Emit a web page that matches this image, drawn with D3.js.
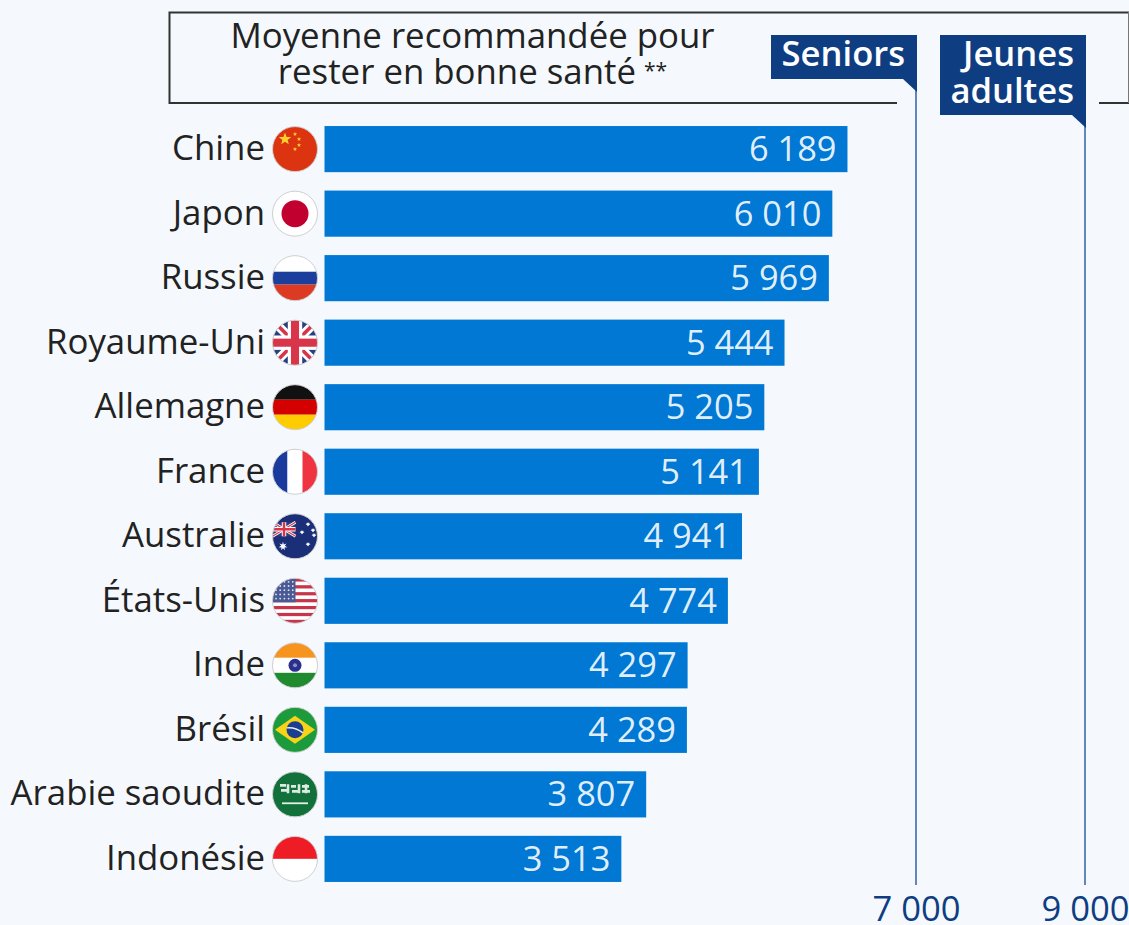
<!DOCTYPE html>
<html lang="fr">
<head>
<meta charset="utf-8">
<script src="https://cdn.jsdelivr.net/npm/d3@7"></script>
<style>
  html, body { margin: 0; padding: 0; background: #f5f9fd; overflow: hidden; }
  svg { display: block; font-family: "Open Sans", sans-serif; }
</style>
</head>
<body>
<div id="chart"></div>
<script>
const countries = ['Chine', 'Japon', 'Russie', 'Royaume-Uni', 'Allemagne', 'France', 'Australie', 'États-Unis', 'Inde', 'Brésil', 'Arabie saoudite', 'Indonésie'];
const steps = [6189, 6010, 5969, 5444, 5205, 5141, 4941, 4774, 4297, 4289, 3807, 3513];
const flagCodes = ['cn', 'jp', 'ru', 'gb', 'de', 'fr', 'au', 'us', 'in', 'br', 'sa', 'id'];
const refValues = [7000, 9000];
const refLabels = ['Seniors', 'Jeunes adultes'];
const headerLines = ['Moyenne recommandée pour', 'rester en bonne santé'];

const width = 1129, height = 925;
const navy = '#0f3d82', barBlue = '#0078d4', lineBlue = '#3f6aa8', textDark = '#222';
const fontSize = '34.6px';

const fmt = d => d3.format(',')(d).replace(',', ' ');

const svg = d3.select('#chart').append('svg')
  .attr('width', width)
  .attr('height', height);

const x = d3.scaleLinear().domain([0, 9000]).range([324.5, 1085]);
const y = d3.scaleBand().domain(countries).range([117, 891]).paddingInner(0.285).paddingOuter(0.14);

// header box, open where the labels cross it
svg.append('path')
  .attr('d', `M897,103 H169.5 V12.5 H${width}`)
  .attr('fill', 'none').attr('stroke', '#333').attr('stroke-width', 2);
svg.append('line')
  .attr('x1', 1099).attr('x2', width).attr('y1', 103).attr('y2', 103)
  .attr('stroke', '#333').attr('stroke-width', 2);
svg.append('line')
  .attr('x1', 1128.5).attr('x2', 1128.5).attr('y1', 12).attr('y2', 103)
  .attr('stroke', '#777').attr('stroke-width', 1);

const header = svg.selectAll('.header-line')
  .data(headerLines)
  .enter().append('text')
  .attr('class', 'header-line')
  .attr('x', 472.5)
  .attr('y', (d, i) => 48 + i * 36)
  .attr('text-anchor', 'middle')
  .style('font-size', '34.8px')
  .style('fill', textDark)
  .text(d => d);
// the ** note mark sits smaller and raised
header.filter((d, i) => i === 1).append('tspan')
  .attr('dx', 8).attr('dy', -6)
  .style('font-size', '21px')
  .text('**');

// reference lines
const axis = d3.axisBottom(x).tickValues(refValues).tickFormat(fmt).tickSize(0).tickPadding(0);
const axisG = svg.append('g').attr('transform', 'translate(0,885)').call(axis);
axisG.select('.domain').remove();
axisG.selectAll('text')
  .attr('y', 36)
  .attr('dy', 0)
  .style('font-family', '"Open Sans", sans-serif')
  .style('font-size', fontSize)
  .style('fill', navy);

svg.selectAll('.ref-line')
  .data(refValues)
  .enter().append('line')
  .attr('class', 'ref-line')
  .attr('x1', d => x(d)).attr('x2', d => x(d))
  .attr('y1', 78).attr('y2', 885)
  .attr('stroke', lineBlue).attr('stroke-width', 1.6);

// labels on top of the lines
const tagHeight = [44, 80];
const tagWidth = [146, 146];
const tagLines = [['Seniors'], ['Jeunes', 'adultes']];
refValues.forEach((v, i) => {
  const right = x(v) + 1;
  const g = svg.append('g').attr('class', 'ref-tag').datum(refLabels[i]);
  g.append('rect')
    .attr('x', right - tagWidth[i]).attr('y', 35)
    .attr('width', tagWidth[i]).attr('height', tagHeight[i])
    .attr('fill', navy);
  g.append('path')
    .attr('d', `M${right - 14},${35 + tagHeight[i]} H${right} V${35 + tagHeight[i] + 13} Z`)
    .attr('fill', navy);
  g.selectAll('text')
    .data(tagLines[i])
    .enter().append('text')
    .attr('x', right - 12)
    .attr('y', (d, j) => 66 + j * 37)
    .attr('text-anchor', 'end')
    .style('font-size', fontSize)
    .style('font-weight', 600)
    .style('fill', '#fff')
    .text(d => d);
});

// bars
svg.selectAll('.bar')
  .data(countries)
  .enter().append('rect')
  .attr('class', 'bar')
  .attr('x', x(0))
  .attr('y', d => y(d))
  .attr('width', (d, i) => x(steps[i]) - x(0))
  .attr('height', y.bandwidth())
  .attr('fill', barBlue);

svg.selectAll('.value')
  .data(countries)
  .enter().append('text')
  .attr('class', 'value')
  .attr('x', (d, i) => x(steps[i]) - 11)
  .attr('y', d => y(d) + y.bandwidth() / 2 + 12)
  .attr('text-anchor', 'end')
  .style('font-size', '34.4px')
  .style('fill', '#fff')
  .style('fill-opacity', 0.9)
  .text((d, i) => fmt(steps[i]));

svg.selectAll('.country')
  .data(countries)
  .enter().append('text')
  .attr('class', 'country')
  .attr('x', 265)
  .attr('y', d => y(d) + y.bandwidth() / 2 + 11)
  .attr('text-anchor', 'end')
  .style('font-size', '34.8px')
  .style('fill', textDark)
  .text(d => d);

// flags, drawn in a 45x45 box centred on 0,0
const R = 22.5;
function band(g, x0, y0, w, h, c) {
  g.append('rect').attr('x', x0).attr('y', y0).attr('width', w).attr('height', h).attr('fill', c);
}
function hBands(g, cols, shares) {
  let top = -R;
  const size = d3.sum(shares);
  cols.forEach((c, i) => {
    const h = 2 * R * shares[i] / size;
    band(g, -R, top, 2 * R, h, c);
    top += h;
  });
}
function star(g, cx, cy, r, c, n = 5) {
  const pts = d3.range(n * 2).map(i => {
    const a = -Math.PI / 2 + i * Math.PI / n;
    const rr = i % 2 ? r * 0.42 : r;
    return [cx + rr * Math.cos(a), cy + rr * Math.sin(a)];
  });
  g.append('polygon').attr('points', pts.join(' ')).attr('fill', c);
}
function union(g, x0, y0, w, h) {
  band(g, x0, y0, w, h, '#2a3f80');
  const d = `M${x0},${y0} L${x0 + w},${y0 + h} M${x0 + w},${y0} L${x0},${y0 + h}`;
  g.append('path').attr('d', d).attr('stroke', '#fff').attr('stroke-width', h * 0.2);
  g.append('path').attr('d', d).attr('stroke', '#d8344a').attr('stroke-width', h * 0.08);
  band(g, x0 + w / 2 - h * 0.16, y0, h * 0.32, h, '#fff');
  band(g, x0, y0 + h * 0.34, w, h * 0.32, '#fff');
  band(g, x0 + w / 2 - h * 0.09, y0, h * 0.18, h, '#d8344a');
  band(g, x0, y0 + h * 0.41, w, h * 0.18, '#d8344a');
}
const flagDrawers = {
  cn(g) {
    band(g, -R, -R, 2 * R, 2 * R, '#dc3410');
    star(g, -10, -10, 6.5, '#ffcf2e');
    [[0, -15], [4, -10], [4, -4], [0, 0]].forEach(p => star(g, p[0], p[1], 2.2, '#ffcf2e'));
  },
  jp(g) {
    band(g, -R, -R, 2 * R, 2 * R, '#fff');
    g.append('circle').attr('r', 13.5).attr('fill', '#c2002f');
  },
  ru(g) { hBands(g, ['#fff', '#1c3f9e', '#dc3a22'], [1, 0.8, 1]); },
  gb(g) { union(g, -R, -R, 2 * R, 2 * R); },
  de(g) { hBands(g, ['#111', '#d40000', '#ffcc00'], [1, 1, 1]); },
  fr(g) {
    band(g, -R, -R, 15, 2 * R, '#1a3a9c');
    band(g, -7.5, -R, 15, 2 * R, '#fff');
    band(g, 7.5, -R, 15, 2 * R, '#ef3340');
  },
  au(g) {
    band(g, -R, -R, 2 * R, 2 * R, '#1b2f78');
    union(g, -R, -14, 23, 14);
    star(g, -12, 10, 4.5, '#fff', 7);
    [[13, -12], [7, -4], [18, -6], [13, 8], [19, -1]].forEach(p => star(g, p[0], p[1], 2.6, '#fff', 7));
  },
  us(g) {
    d3.range(13).forEach(i => band(g, -R, -R + i * 45 / 13, 2 * R, 45 / 13, i % 2 ? '#fff' : '#c8344a'));
    band(g, -R, -R, 23, 24, '#4a5a94');
    d3.range(5).forEach(r => d3.range(5).forEach(c => {
      g.append('circle').attr('cx', -19 + c * 4.2).attr('cy', -19 + r * 4.2).attr('r', 0.9).attr('fill', '#dfe3f0');
    }));
  },
  in(g) {
    hBands(g, ['#f7941e', '#fff', '#1f8a2e'], [1, 1, 1]);
    g.append('circle').attr('r', 6.5).attr('fill', '#2a2f8c');
    g.append('circle').attr('r', 2).attr('fill', '#8a8fcf');
  },
  br(g) {
    band(g, -R, -R, 2 * R, 2 * R, '#1c9a3c');
    g.append('polygon').attr('points', '-20,0 0,-14 20,0 0,14').attr('fill', '#f7d417');
    g.append('circle').attr('r', 8.5).attr('fill', '#1d3f8f');
    g.append('path').attr('d', 'M-8,-2 Q0,-3 8,3').attr('stroke', '#e8edf5').attr('stroke-width', 1.4).attr('fill', 'none');
  },
  sa(g) {
    band(g, -R, -R, 2 * R, 2 * R, '#12703a');
    g.append('path')
      .attr('d', 'M-15,-9 H-9 M-14,-4 H-6 M-7,-10 V-1 M-4,-8 H1 M-3,-3 H3 M4,-10 V-1 M7,-8 H14 M7,-3 H15 M11,-10 V-1')
      .attr('stroke', '#dcebe1').attr('stroke-width', 2.6).attr('fill', 'none');
    band(g, -13, 8, 26, 1.8, '#e3efe7');
  },
  id(g) { hBands(g, ['#ee1c25', '#fff'], [1, 1]); }
};

const flags = svg.append('g').attr('class', 'flags');
svg.append('defs').append('clipPath').attr('id', 'flag-clip')
  .append('circle').attr('r', R);

countries.forEach((c, i) => {
  const g = flags.append('g')
    .attr('transform', `translate(295,${y(c) + y.bandwidth() / 2})`);
  const inner = g.append('g').attr('clip-path', 'url(#flag-clip)');
  flagDrawers[flagCodes[i]](inner);
  g.append('circle').attr('r', R).attr('fill', 'none').attr('stroke', '#cfcfcf').attr('stroke-width', 1);
});
</script>
</body>
</html>
